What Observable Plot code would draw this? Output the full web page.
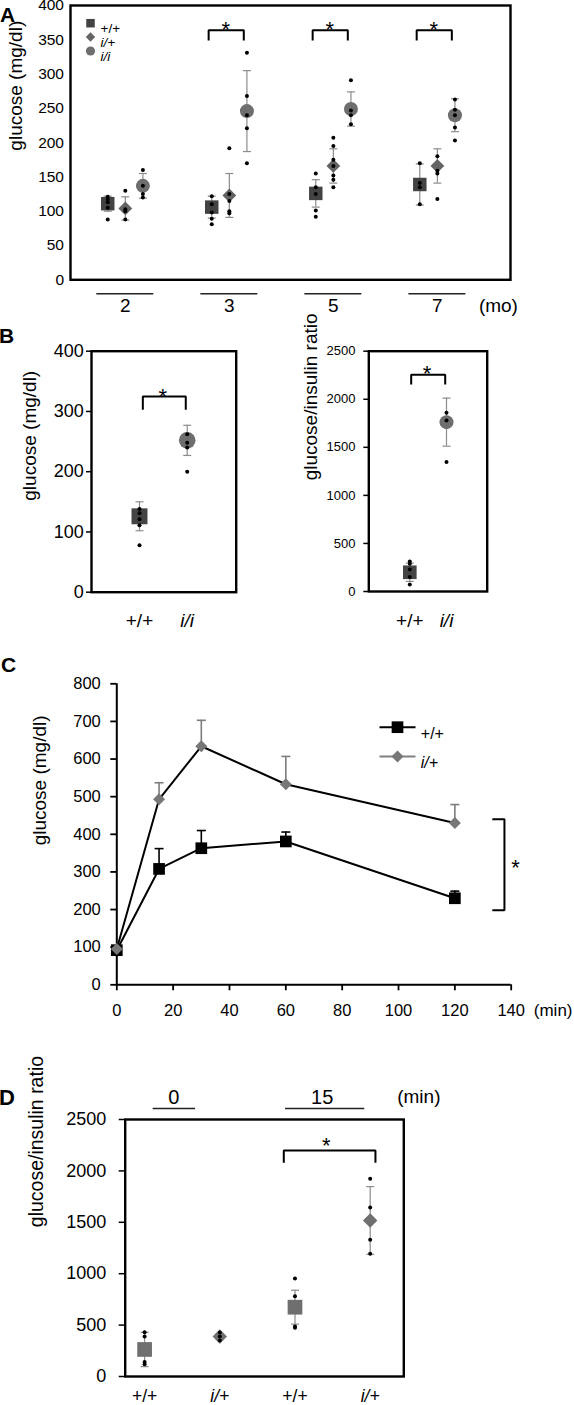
<!DOCTYPE html>
<html><head><meta charset="utf-8">
<script src="https://cdn.jsdelivr.net/npm/d3@7"></script>
<script src="https://cdn.jsdelivr.net/npm/@observablehq/plot@0.6"></script>
<style>
html,body{margin:0;padding:0;background:#fff;}
#root{position:relative;width:574px;height:1405px;overflow:hidden;background:#fff;font-family:"Liberation Sans",Arial,Helvetica,sans-serif;}
#root svg{position:absolute;}
.lbl{position:absolute;font-weight:bold;font-size:21px;line-height:1;color:#000;}
</style></head><body><div id="root"></div>
<script>
// ================= DATA =================
// Panel A : fasting glucose by age (months) and genotype
const monthsA   = ["2","3","5","7"];
const genosA    = ["+/+","i/+","i/i"];
const meanA_wt  = [111,106,126,139];
const meanA_het = [104,123,166,166];
const meanA_hom = [137,246,249,240];
const semA_wt   = [11,16,20,30];
const semA_het  = [17,32,25,25];
const semA_hom  = [18,59,25,24];
const ptsA_wt   = [[121,118,113,105,88],[122,110,98,89,81],[155,135,125,101,92],[170,141,135,110]];
const ptsA_het  = [[130,103,100,88],[192,125,115,100,97],[207,195,175,166,152,146,135],[180,159,155,118]];
const ptsA_hom  = [[160,137,125,120],[331,268,240,221,170],[291,247,240,227],[263,248,240,222,203]];
const sigA      = ["3","5","7"];
const yTicksA   = [0,50,100,150,200,250,300,350,400];

// Panel B
const catsB     = ["+/+","i/i"];
const meanBg    = [126,252];
const semBg     = [24,25];
const ptsBg     = [[138,131,121,111,78],[262,248,240,200]];
const yTicksBg  = [0,100,200,300,400];
const meanBr    = [200,1762];
const semBr     = [95,250];
const ptsBr     = [[312,290,230,150,73],[1860,1780,1346]];
const yTicksBr  = [0,500,1000,1500,2000,2500];

// Panel C : glucose tolerance test
const timesC    = [0,15,30,60,120];
const genosC    = ["+/+","i/+"];
const meanC_wt  = [92,308,363,381,230];
const semC_wt   = [3,54,47,25,19];
const meanC_het = [95,493,634,533,430];
const semC_het  = [3,44,69,74,49];
const xTicksC   = [0,20,40,60,80,100,120,140];
const yTicksC   = [0,100,200,300,400,500,600,700,800];
const sigC      = [198,440];   // bracket range (mg/dl)

// Panel D : glucose/insulin ratio at 0 and 15 min
const timeD     = ["0","0","15","15"];
const genoD     = ["+/+","i/+","+/+","i/+"];
const meanD     = [263,389,674,1518];
const semD      = [167,30,165,329];
const ptsD      = [[430,390,140,120],[428,389,350],[953,781,486,474],[1923,1644,1330,1193]];
const groupsD   = ["0","15"];
const yTicksD   = [0,500,1000,1500,2000,2500];

// ================= HELPERS =================
const F = '"Liberation Sans", Arial, Helvetica, sans-serif';
const BAR = "#8c8c8c";
const fmt = d => String(d);
const capSym = {draw(ctx, size){const r = Math.sqrt(size/Math.PI); ctx.moveTo(-r,0); ctx.lineTo(r,0);}};
const baseStyle = {fontFamily: F, background: "transparent", overflow: "visible", color: "#000"};
const root = document.getElementById("root");
function place(svg, left, top){ svg.style.left = left + "px"; svg.style.top = top + "px"; root.appendChild(svg); }
function letter(ch, left, top, size){ const d = document.createElement("div"); d.className = "lbl"; d.textContent = ch; d.style.left = left+"px"; d.style.top = top+"px"; if (size) d.style.fontSize = size+"px"; root.appendChild(d); }
function errMarks(rows, {color = BAR, sw = 1.2, cap = 4, up = true, down = true} = {}) {
  const m = [Plot.ruleX(rows, {x: "x", y1: d => down ? d.mean - d.err : d.mean, y2: d => up ? d.mean + d.err : d.mean, stroke: color, strokeWidth: sw})];
  if (up) m.push(Plot.dot(rows, {x: "x", y: d => d.mean + d.err, symbol: capSym, r: cap, stroke: color, strokeWidth: sw, fill: "none"}));
  if (down) m.push(Plot.dot(rows, {x: "x", y: d => d.mean - d.err, symbol: capSym, r: cap, stroke: color, strokeWidth: sw, fill: "none"}));
  return m;
}
function yLabel(text, dx, dy, size){ return Plot.text([text], {frameAnchor: "left", dx, dy, rotate: -90, fontSize: size, text: d => d}); }
const lineOpts = {x: "x", y: "y", stroke: "#000", strokeWidth: 2, strokeLinejoin: "miter", strokeLinecap: "butt"};
// horizontal bracket (opening downward)
function bracket(x1, x2, yLo, yHi){
  return Plot.line([{x:x1,y:yLo},{x:x1,y:yHi},{x:x2,y:yHi},{x:x2,y:yLo}], lineOpts);
}
// vertical bracket (opening leftward)
function vbracket(xIn, xOut, yLo, yHi){
  return Plot.line([{x:xIn,y:yHi},{x:xOut,y:yHi},{x:xOut,y:yLo},{x:xIn,y:yLo}], lineOpts);
}
function star(x, y, size = 22){ return Plot.text([{x, y}], {x:"x", y:"y", text: () => "*", fontSize: size, dy: 0.255*size}); }
const isItal = s => s.startsWith("i");

// ================= PANEL A =================
const OFF_A = 0.169;
const styleA = [
  {symbol:"square",   r:7.6, fill:"#434343", k:-1, legR:4.8, legDy:17.7},
  {symbol:"diamond2", r:6.2, fill:"#636363", k: 0, legR:4.2, legDy:31.5},
  {symbol:"circle",   r:7.0, fill:"#6e6e6e", k: 1, legR:4.6, legDy:45.5}
];
const seriesA = [[meanA_wt, semA_wt, ptsA_wt],[meanA_het, semA_het, ptsA_het],[meanA_hom, semA_hom, ptsA_hom]];
const rowsA = seriesA.map(([m, s], k) => monthsA.map((mo, i) => ({x: i + styleA[k].k*OFF_A, mean: m[i], err: s[i]})));
const ptRowsA = seriesA.flatMap(([, , p], k) => monthsA.flatMap((mo, i) => p[i].map(v => ({x: i + styleA[k].k*OFF_A, y: v}))));

const svgA = Plot.plot({
  width: 574, height: 320, marginLeft: 70, marginRight: 64, marginTop: 5, marginBottom: 40.7,
  x: {domain: [-0.527, 3.703], axis: null},
  y: {domain: [0, 400]},
  style: baseStyle,
  marks: [
    Plot.axisY({ticks: yTicksA, tickFormat: fmt, tickSize: 0, tickPadding: 6.5, fontSize: 15.5, label: null}),
    yLabel("glucose (mg/dl)", -55, 8, 19),
    ...rowsA.flatMap(r => errMarks(r)),
    ...rowsA.map((r, k) => Plot.dot(r, {x: "x", y: "mean", symbol: styleA[k].symbol, r: styleA[k].r, fill: styleA[k].fill})),
    Plot.dot(ptRowsA, {x: "x", y: "y", r: 2, fill: "#000"}),
    ...sigA.flatMap(s => { const i = monthsA.indexOf(s); return [bracket(i - OFF_A - 0.03, i + OFF_A - 0.03, 349, 364), star(i - 0.035, 372.4)]; }),
    Plot.ruleY(monthsA, {x1: (d, i) => i - 0.274, x2: (d, i) => i + 0.274, y: () => 0, dy: 14, stroke: "#222", strokeWidth: 1.5}),
    Plot.text(monthsA, {x: (d, i) => i, y: () => 0, dy: 26, text: d => d, fontSize: 19}),
    Plot.text(["(mo)"], {x: () => 3.587, y: () => 0, dy: 26, text: d => d, fontSize: 19}),
    ...genosA.flatMap((g, k) => [
      Plot.dot([g], {frameAnchor: "top-left", dx: 20, dy: styleA[k].legDy, symbol: styleA[k].symbol, r: styleA[k].legR, fill: styleA[k].fill}),
      Plot.text([g], {frameAnchor: "top-left", dx: 30, dy: styleA[k].legDy, text: d => d, textAnchor: "start", fontSize: 13.5, fontStyle: isItal(g) ? "italic" : "normal"})
    ]),
    Plot.frame({stroke: "#000", strokeWidth: 2.4})
  ]
});
place(svgA, 0, 0);

// ================= PANEL B =================
const styleB = [{symbol:"square", fill:"#444"}, {symbol:"circle", fill:"#6e6e6e"}];
function panelB({means, sems, pts, ticks, label, rSq, rCi, tickFont, tickPad, labelDx, labelDy, xDomain, bl, sig, starXY, w, ml, mr, mb, catDy}) {
  const rows = catsB.map((c, i) => ({x: i, mean: means[i], err: sems[i]}));
  const pr = catsB.flatMap((c, i) => pts[i].map(v => ({x: i, y: v})));
  const rs = [rSq, rCi];
  return Plot.plot({
    width: w, height: 310, marginLeft: ml, marginRight: mr, marginTop: 20.7, marginBottom: mb,
    x: {domain: xDomain, axis: null}, y: {domain: [0, ticks[ticks.length-1]]},
    style: baseStyle,
    marks: [
      Plot.axisY({ticks, tickFormat: fmt, tickSize: 5, tickPadding: tickPad, fontSize: tickFont, label: null, strokeWidth: 1.5}),
      yLabel(label, labelDx, labelDy, 19),
      ...errMarks(rows),
      ...rows.map((r, i) => Plot.dot([r], {x: "x", y: "mean", symbol: styleB[i].symbol, r: rs[i], fill: styleB[i].fill})),
      Plot.dot(pr, {x: "x", y: "y", r: 2, fill: "#000"}),
      bracket(bl[0], bl[1], sig[0], sig[1]),
      star(starXY[0], starXY[1]),
      ...catsB.map((c, i) => Plot.text([c], {x: () => i, y: () => 0, dy: catDy, text: d => d, fontSize: 19, fontStyle: isItal(c) ? "italic" : "normal"})),
      Plot.frame({stroke: "#000", strokeWidth: 2.4})
    ]
  });
}
place(panelB({means: meanBg, sems: semBg, pts: ptsBg, ticks: yTicksBg, label: "glucose (mg/dl)", rSq: 9, rCi: 8.3,
  tickFont: 18, tickPad: 2.7, labelDx: -61.5, labelDy: 29, xDomain: [-1.006, 2.027], bl: [0.07, 0.97], sig: [303, 325], starXY: [0.49, 334],
  w: 270, ml: 91, mr: 34.3, mb: 48.3, catDy: 28.3}), 0, 330);
place(panelB({means: meanBr, sems: semBr, pts: ptsBr, ticks: yTicksBr, label: "glucose/insulin ratio", rSq: 7.7, rCi: 7,
  tickFont: 13, tickPad: 8.3, labelDx: -58.3, labelDy: 9, xDomain: [-1.117, 2.109], bl: [0.038, 0.965], sig: [2154, 2255], starXY: [0.47, 2317],
  w: 294, ml: 88.3, mr: 87.3, mb: 49, catDy: 29}), 280, 330);

// ================= PANEL C =================
const rowsC_wt  = timesC.map((t, i) => ({x: t, mean: meanC_wt[i], err: semC_wt[i]}));
const rowsC_het = timesC.map((t, i) => ({x: t, mean: meanC_het[i], err: semC_het[i]}));
const svgC = Plot.plot({
  width: 574, height: 400, marginLeft: 116.3, marginRight: 63.3, marginTop: 43.3, marginBottom: 55.7,
  x: {domain: [0, 140]}, y: {domain: [0, 800]},
  style: baseStyle,
  marks: [
    Plot.axisY({ticks: yTicksC, tickFormat: fmt, tickSize: 6, tickPadding: 10, fontSize: 16.5, label: null, strokeWidth: 1.8}),
    Plot.axisX({ticks: xTicksC, tickFormat: fmt, tickSize: 6, tickPadding: 13, fontSize: 16.5, label: null, strokeWidth: 1.8}),
    Plot.text(["(min)"], {x: () => 140, y: () => 0, dx: 22.6, dy: 25.7, textAnchor: "start", text: d => d, fontSize: 17}),
    yLabel("glucose (mg/dl)", -77.3, 11, 19),
    Plot.ruleX([0], {stroke: "#000", strokeWidth: 2}),
    Plot.ruleY([0], {stroke: "#000", strokeWidth: 2}),
    Plot.line(rowsC_het, {x: "x", y: "mean", stroke: "#000", strokeWidth: 2}),
    Plot.line(rowsC_wt, {x: "x", y: "mean", stroke: "#000", strokeWidth: 2}),
    ...errMarks(rowsC_wt, {color: "#000", sw: 1.6, cap: 4.5, down: false}),
    ...errMarks(rowsC_het, {color: "#7d7d7d", sw: 1.6, cap: 4.5, down: false}),
    Plot.dot(rowsC_wt, {x: "x", y: "mean", symbol: "square", r: 6.6, fill: "#000"}),
    Plot.dot(rowsC_het, {x: "x", y: "mean", symbol: "diamond2", r: 5.4, fill: "#777"}),
    vbracket(133.3, 137.6, sigC[0], sigC[1]),
    star(141.5, 326),
    // legend
    Plot.dot([genosC[0]], {frameAnchor: "top-left", dx: 280.7, dy: 43.4, symbol: capSym, r: 18, stroke: "#000", strokeWidth: 2, fill: "none"}),
    Plot.dot([genosC[0]], {frameAnchor: "top-left", dx: 280.7, dy: 43.4, symbol: "square", r: 6.6, fill: "#000"}),
    Plot.text([genosC[0]], {frameAnchor: "top-left", dx: 304, dy: 43.4, text: d => d, textAnchor: "start", fontSize: 16}),
    Plot.dot([genosC[1]], {frameAnchor: "top-left", dx: 280.7, dy: 72.7, symbol: capSym, r: 18, stroke: "#808080", strokeWidth: 2, fill: "none"}),
    Plot.dot([genosC[1]], {frameAnchor: "top-left", dx: 280.7, dy: 72.7, symbol: "diamond2", r: 5.4, fill: "#777"}),
    Plot.text([genosC[1]], {frameAnchor: "top-left", dx: 304, dy: 72.7, text: d => d, textAnchor: "start", fontSize: 16, fontStyle: "italic"})
  ]
});
place(svgC, 0, 640);

// ================= PANEL D =================
const styleD = {"+/+": {symbol: "square", r: 8.3, fill: "#6f6f6f"}, "i/+": {symbol: "diamond2", r: 6.5, fill: "#6f6f6f"}};
const groupSpanD = [[0.114, 0.678], [1.874, 2.928]];
const groupLabelXD = [0.388, 2.362];
const rowsD = meanD.map((m, i) => ({x: i, mean: m, err: semD[i], g: genoD[i]}));
const ptRowsD = ptsD.flatMap((p, i) => p.map(v => ({x: i, y: v})));
const svgD = Plot.plot({
  width: 574, height: 365, marginLeft: 124.7, marginRight: 170.7, marginTop: 79, marginBottom: 29,
  x: {domain: [-0.258, 3.447], axis: null}, y: {domain: [0, 2500]},
  style: baseStyle,
  marks: [
    Plot.axisY({ticks: yTicksD, tickFormat: fmt, tickSize: 6, tickPadding: 13, fontSize: 18, label: null, strokeWidth: 1.5}),
    yLabel("glucose/insulin ratio", -88, -20.8, 19.5),
    ...errMarks(rowsD),
    ...rowsD.map(r => Plot.dot([r], {x: "x", y: "mean", symbol: styleD[r.g].symbol, r: styleD[r.g].r, fill: styleD[r.g].fill})),
    Plot.dot(ptRowsD, {x: "x", y: "y", r: 2, fill: "#000"}),
    bracket(1.851, 3.07, 2079, 2198),
    star(2.415, 2296),
    Plot.ruleY(groupsD, {x1: (d, i) => groupSpanD[i][0], x2: (d, i) => groupSpanD[i][1], y: () => 2500, dy: -11, stroke: "#222", strokeWidth: 1.5}),
    Plot.text(groupsD, {x: (d, i) => groupLabelXD[i], y: () => 2500, dy: -22.3, text: d => d, fontSize: 20}),
    Plot.text(["(min)"], {x: () => 3.359, y: () => 2500, dy: -22.3, text: d => d, textAnchor: "start", fontSize: 19}),
    ...genoD.map((g, i) => Plot.text([g], {x: () => i, y: () => 0, dy: 19.5, text: d => d, fontSize: 17.5, fontStyle: isItal(g) ? "italic" : "normal"})),
    Plot.frame({stroke: "#000", strokeWidth: 2.4})
  ]
});
place(svgD, 0, 1040);

// panel letters
letter("A", 0, 4);
letter("B", -1, 325);
letter("C", 1, 654);
letter("D", -1, 1087, 22);
</script></body></html>
